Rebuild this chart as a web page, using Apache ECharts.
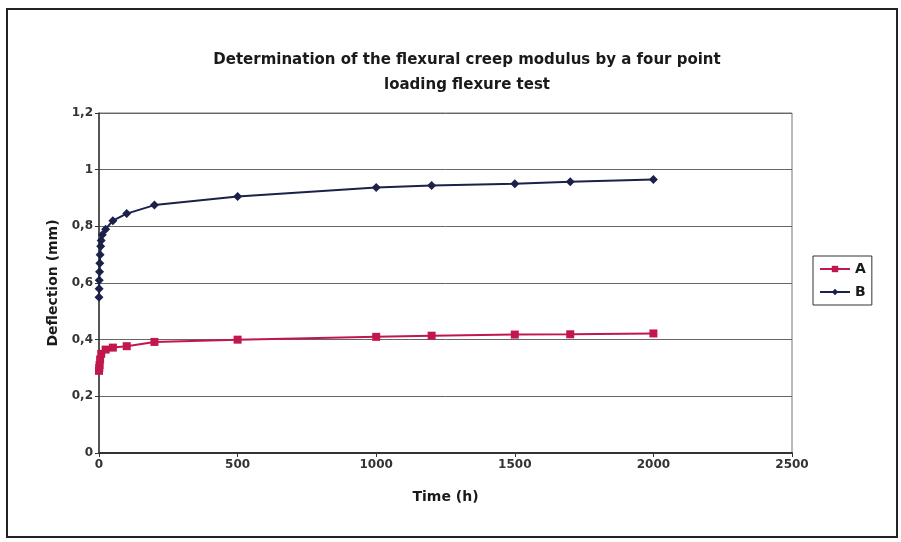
<!DOCTYPE html>
<html>
<head>
<meta charset="utf-8">
<script src="https://cdn.jsdelivr.net/npm/echarts@6/dist/echarts.min.js"></script>
<style>
  html, body { margin: 0; padding: 0; background: #fff; }
  #chart { width: 901px; height: 542px; }
</style>
</head>
<body>
<div id="chart"></div>
<script>
// time in hours
var timeA = [0, 1, 2, 4, 8, 24, 50, 100, 200, 500, 1000, 1200, 1500, 1700, 2000];
var deflA = [0.29, 0.30, 0.31, 0.33, 0.35, 0.365, 0.372, 0.377, 0.392, 0.400, 0.410, 0.414, 0.418, 0.419, 0.422];

var timeB = [0, 0.5, 1, 2, 3, 4, 6, 8, 12, 24, 50, 100, 200, 500, 1000, 1200, 1500, 1700, 2000];
var deflB = [0.55, 0.58, 0.61, 0.64, 0.67, 0.70, 0.73, 0.75, 0.77, 0.79, 0.82, 0.845, 0.875, 0.905, 0.937, 0.944, 0.950, 0.957, 0.965];

var xTicks = [0, 500, 1000, 1500, 2000, 2500];
var yTicks = [0, 0.2, 0.4, 0.6, 0.8, 1, 1.2];

function pairs(xs, ys) {
  var out = [];
  for (var i = 0; i < xs.length; i++) out.push([xs[i], ys[i]]);
  return out;
}

var chart = echarts.init(document.getElementById('chart'));
var font = 'DejaVu Sans, Arial, sans-serif';

var option = {
  backgroundColor: '#fff',
  animation: false,
  title: {
    text: 'Determination of the flexural creep modulus by a four point\nloading flexure test',
    left: 462,
    top: 43,
    textAlign: 'center',
    textStyle: { fontFamily: font, fontSize: 15, fontWeight: 'bold', color: '#1a1a1a', lineHeight: 25 }
  },
  legend: {
    orient: 'vertical',
    left: 813,
    top: 256,
    itemWidth: 30,
    itemHeight: 8,
    itemGap: 9,
    padding: [6, 6, 6, 6],
    borderColor: '#333',
    borderWidth: 1,
    textStyle: { fontFamily: font, fontSize: 14, fontWeight: 'bold', color: '#1a1a1a' },
    data: ['A', 'B']
  },
  grid: {
    left: 99, right: 109, top: 113, bottom: 89,
    show: true, borderColor: '#777', borderWidth: 1
  },
  xAxis: {
    type: 'value',
    min: 0, max: 2500, interval: 500,
    name: 'Time (h)',
    nameLocation: 'middle',
    nameGap: 37,
    nameTextStyle: { fontFamily: font, fontSize: 14, fontWeight: 'bold', color: '#1a1a1a' },
    axisLine: { lineStyle: { color: '#333', width: 2 } },
    axisTick: { show: true, inside: false, length: 4, lineStyle: { color: '#333' } },
    axisLabel: {
      fontFamily: font, fontSize: 12, fontWeight: 'bold', color: '#333', margin: 6,
      formatter: function (v) { return xTicks.indexOf(v) >= 0 ? String(v) : ''; }
    },
    splitLine: { show: false }
  },
  yAxis: {
    type: 'value',
    min: 0, max: 1.2, interval: 0.2,
    name: 'Deflection (mm)',
    nameLocation: 'middle',
    nameGap: 30,
    nameTextStyle: { fontFamily: font, fontSize: 14, fontWeight: 'bold', color: '#1a1a1a' },
    axisLine: { show: true, lineStyle: { color: '#333', width: 1.5 } },
    axisTick: { show: true, length: 4, lineStyle: { color: '#333' } },
    axisLabel: {
      fontFamily: font, fontSize: 12, fontWeight: 'bold', color: '#333', margin: 6,
      formatter: function (v) {
        var t = yTicks.find(function (y) { return Math.abs(y - v) < 1e-6; });
        return t === undefined ? '' : String(t).replace('.', ',');
      }
    },
    splitLine: { show: true, lineStyle: { color: '#666', width: 1 } }
  },
  series: [{
    name: 'A',
    type: 'line',
    data: pairs(timeA, deflA),
    symbol: 'rect',
    symbolSize: 8,
    color: '#c2174c',
    lineStyle: { width: 2, color: '#c2174c' },
    itemStyle: { color: '#c2174c' }
  }, {
    name: 'B',
    type: 'line',
    data: pairs(timeB, deflB),
    symbol: 'diamond',
    symbolSize: 9,
    color: '#1b2149',
    lineStyle: { width: 2, color: '#1b2149' },
    itemStyle: { color: '#1b2149' }
  }],
  graphic: [{
    type: 'rect',
    shape: { x: 7, y: 9, width: 890, height: 528 },
    style: { fill: 'none', stroke: '#222', lineWidth: 2 },
    silent: true
  }]
};

chart.setOption(option);
</script>
</body>
</html>
